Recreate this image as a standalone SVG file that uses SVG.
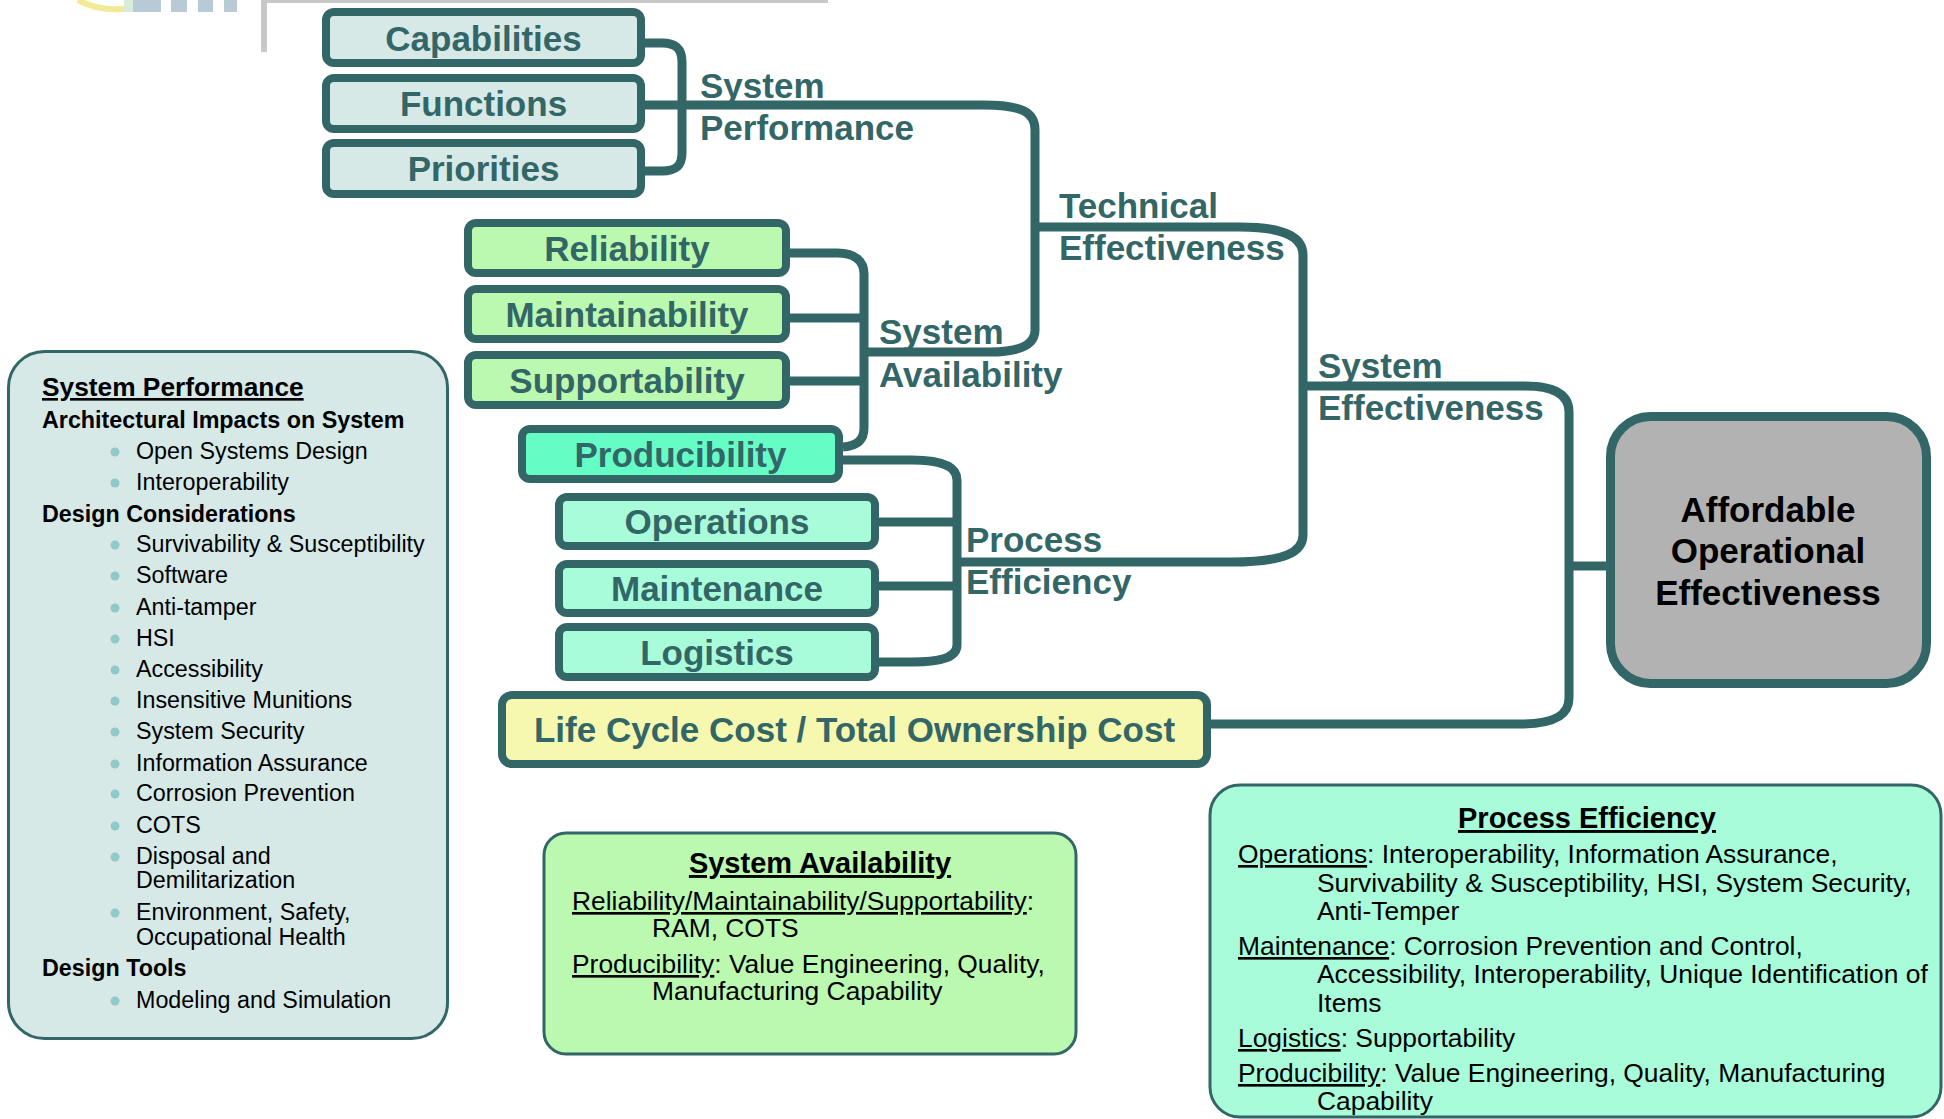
<svg xmlns="http://www.w3.org/2000/svg" width="1944" height="1119" viewBox="0 0 1944 1119">
<style>
.box{stroke:#336666;stroke-width:8}
.lbl{font-family:"Liberation Sans",Arial,Helvetica,sans-serif;font-weight:bold;font-size:35px;fill:#336666;text-anchor:middle}
.conn{fill:none;stroke:#336666;stroke-width:9}
.clbl{font-family:"Liberation Sans",Arial,Helvetica,sans-serif;font-weight:bold;font-size:35px;fill:#336666}
.panel{stroke:#336666;stroke-width:3}
.ptxt{font-family:"Liberation Sans",Arial,Helvetica,sans-serif;font-size:23.3px;fill:#000}
.btxt{font-family:"Liberation Sans",Arial,Helvetica,sans-serif;font-size:26.4px;fill:#000}
.b{font-weight:bold}
.u{text-decoration:underline}
.bul{fill:#8fc9c9}
.sp{fill:#d6e9e7}
.sa{fill:#bbf9b0}
.pr{fill:#66fcc6}
.pe{fill:#a8fcd9}
</style>
<g id="decor">
<path d="M78,0 Q98,11 125,9" fill="none" stroke="#f3ea95" stroke-width="6"/>
<rect x="124" y="0" width="9" height="12" fill="#d9ecd9"/>
<rect x="133" y="0" width="28" height="12" fill="#b8cad6"/>
<rect x="171" y="0" width="16" height="12" fill="#b8cad6"/>
<rect x="198" y="0" width="15" height="12" fill="#b8cad6"/>
<rect x="224" y="0" width="13" height="12" fill="#b8cad6"/>
<rect x="261" y="0" width="567" height="3" fill="#c8c8c8"/>
<rect x="261" y="0" width="6" height="52" fill="#c8c8c8"/>
</g>
<g id="connectors">
<path class="conn" d="M645,43 H662 C677,43 682,50 682,62 V153 C682,165 677,171 662,171 H645"/>
<path class="conn" d="M645,105 H983 C1022,105 1035,112 1035,130 V330 C1035,345 1020,352 990,352 H864"/>
<path class="conn" d="M1035,227 H1240 C1285,227 1303,237 1303,255 V535 C1303,552 1285,562 1232,562 H957"/>
<path class="conn" d="M790,253 H837 C856,253 864,262 864,274 V428 C864,440 857,446 843,447"/>
<path class="conn" d="M790,318 H864 M790,381 H864"/>
<path class="conn" d="M843,460 H912 C945,460 957,468 957,480 V645 C957,656 945,662 912,662 H878"/>
<path class="conn" d="M879,522 H957 M879,586 H957"/>
<path class="conn" d="M1303,386 H1525 C1555,386 1569,395 1569,412 V698 C1569,715 1555,724 1520,724 H1211"/>
<path class="conn" d="M1569,566 H1606"/>
</g>
<g id="connector-labels">
<text class="clbl" x="700" y="98">System</text>
<text class="clbl" x="700" y="140">Performance</text>
<text class="clbl" x="1059" y="218">Technical</text>
<text class="clbl" x="1059" y="260">Effectiveness</text>
<text class="clbl" x="879" y="344">System</text>
<text class="clbl" x="879" y="387">Availability</text>
<text class="clbl" x="1318" y="378">System</text>
<text class="clbl" x="1318" y="420">Effectiveness</text>
<text class="clbl" x="966" y="552">Process</text>
<text class="clbl" x="966" y="594">Efficiency</text>
</g>
<g id="capabilities"><rect class="box sp" x="326" y="12" width="315" height="51" rx="8"/><text class="lbl" x="483.5" y="50.5">Capabilities</text></g>
<g id="functions"><rect class="box sp" x="326" y="78" width="315" height="51" rx="8"/><text class="lbl" x="483.5" y="116">Functions</text></g>
<g id="priorities"><rect class="box sp" x="326" y="143" width="315" height="51" rx="8"/><text class="lbl" x="483.5" y="181">Priorities</text></g>
<g id="reliability"><rect class="box sa" x="468" y="223" width="318" height="50" rx="8"/><text class="lbl" x="627" y="261">Reliability</text></g>
<g id="maintainability"><rect class="box sa" x="468" y="289" width="318" height="50" rx="8"/><text class="lbl" x="627" y="327">Maintainability</text></g>
<g id="supportability"><rect class="box sa" x="468" y="355" width="318" height="50" rx="8"/><text class="lbl" x="627" y="393">Supportability</text></g>
<g id="producibility"><rect class="box pr" x="522" y="429" width="317" height="50" rx="8"/><text class="lbl" x="680.5" y="467">Producibility</text></g>
<g id="operations"><rect class="box pe" x="559" y="497" width="316" height="49" rx="8"/><text class="lbl" x="717" y="534">Operations</text></g>
<g id="maintenance"><rect class="box pe" x="559" y="564" width="316" height="49" rx="8"/><text class="lbl" x="717" y="601">Maintenance</text></g>
<g id="logistics"><rect class="box pe" x="559" y="627" width="316" height="50" rx="8"/><text class="lbl" x="717" y="665">Logistics</text></g>
<g id="lcc"><rect class="box" fill="#f7f8b0" x="502" y="695" width="705" height="69" rx="10"/><text class="lbl" x="854.5" y="742">Life Cycle Cost / Total Ownership Cost</text></g>
<g id="aoe"><rect fill="#b2b2b2" stroke="#336666" stroke-width="9" x="1610.5" y="416.5" width="316" height="267" rx="40"/>
<text class="lbl" style="fill:#000" x="1768" y="522">Affordable</text>
<text class="lbl" style="fill:#000" x="1768" y="563">Operational</text>
<text class="lbl" style="fill:#000" x="1768" y="605">Effectiveness</text></g>
<g id="panel-system-performance">
<rect class="panel sp" x="8.5" y="351.5" width="439" height="687" rx="36"/>
<text class="ptxt b u" style="font-size:26.3px" x="42" y="396">System Performance</text>
<text class="ptxt b" x="42" y="427.5">Architectural Impacts on System</text>
<circle class="bul" cx="115" cy="452" r="4.5"/><text class="ptxt" x="136" y="459">Open Systems Design</text>
<circle class="bul" cx="115" cy="483" r="4.5"/><text class="ptxt" x="136" y="490">Interoperability</text>
<text class="ptxt b" x="42" y="521.5">Design Considerations</text>
<circle class="bul" cx="115" cy="545" r="4.5"/><text class="ptxt" x="136" y="552">Survivability &amp; Susceptibility</text>
<circle class="bul" cx="115" cy="576" r="4.5"/><text class="ptxt" x="136" y="583">Software</text>
<circle class="bul" cx="115" cy="608" r="4.5"/><text class="ptxt" x="136" y="614.5">Anti-tamper</text>
<circle class="bul" cx="115" cy="639" r="4.5"/><text class="ptxt" x="136" y="646">HSI</text>
<circle class="bul" cx="115" cy="670" r="4.5"/><text class="ptxt" x="136" y="676.5">Accessibility</text>
<circle class="bul" cx="115" cy="701" r="4.5"/><text class="ptxt" x="136" y="708">Insensitive Munitions</text>
<circle class="bul" cx="115" cy="732" r="4.5"/><text class="ptxt" x="136" y="739">System Security</text>
<circle class="bul" cx="115" cy="764" r="4.5"/><text class="ptxt" x="136" y="770.5">Information Assurance</text>
<circle class="bul" cx="115" cy="794" r="4.5"/><text class="ptxt" x="136" y="801">Corrosion Prevention</text>
<circle class="bul" cx="115" cy="826" r="4.5"/><text class="ptxt" x="136" y="832.5">COTS</text>
<circle class="bul" cx="115" cy="857" r="4.5"/><text class="ptxt" x="136" y="864">Disposal and</text>
<text class="ptxt" x="136" y="888">Demilitarization</text>
<circle class="bul" cx="115" cy="913" r="4.5"/><text class="ptxt" x="136" y="920">Environment, Safety,</text>
<text class="ptxt" x="136" y="945">Occupational Health</text>
<text class="ptxt b" x="42" y="976">Design Tools</text>
<circle class="bul" cx="115" cy="1001" r="4.5"/><text class="ptxt" x="136" y="1007.5">Modeling and Simulation</text>
</g>
<g id="panel-system-availability">
<rect class="panel sa" x="544" y="833" width="532" height="221" rx="22"/>
<text class="btxt b u" style="font-size:29px" x="820" y="873" text-anchor="middle">System Availability</text>
<text class="btxt" x="572" y="910"><tspan class="u">Reliability/Maintainability/Supportability</tspan>:</text>
<text class="btxt" x="652" y="937">RAM, COTS</text>
<text class="btxt" x="572" y="973"><tspan class="u">Producibility</tspan>: Value Engineering, Quality,</text>
<text class="btxt" x="652" y="1000">Manufacturing Capability</text>
</g>
<g id="panel-process-efficiency">
<rect class="panel pe" x="1210" y="785" width="731" height="332" rx="30"/>
<text class="btxt b u" style="font-size:29px" x="1587" y="828" text-anchor="middle">Process Efficiency</text>
<text class="btxt" x="1238" y="863"><tspan class="u">Operations</tspan>: Interoperability, Information Assurance,</text>
<text class="btxt" x="1317" y="892">Survivability &amp; Susceptibility, HSI, System Security,</text>
<text class="btxt" x="1317" y="920">Anti-Temper</text>
<text class="btxt" x="1238" y="955"><tspan class="u">Maintenance</tspan>: Corrosion Prevention and Control,</text>
<text class="btxt" x="1317" y="983">Accessibility, Interoperability, Unique Identification of</text>
<text class="btxt" x="1317" y="1012">Items</text>
<text class="btxt" x="1238" y="1047"><tspan class="u">Logistics</tspan>: Supportability</text>
<text class="btxt" x="1238" y="1082"><tspan class="u">Producibility</tspan>: Value Engineering, Quality, Manufacturing</text>
<text class="btxt" x="1317" y="1110">Capability</text>
</g>
</svg>
